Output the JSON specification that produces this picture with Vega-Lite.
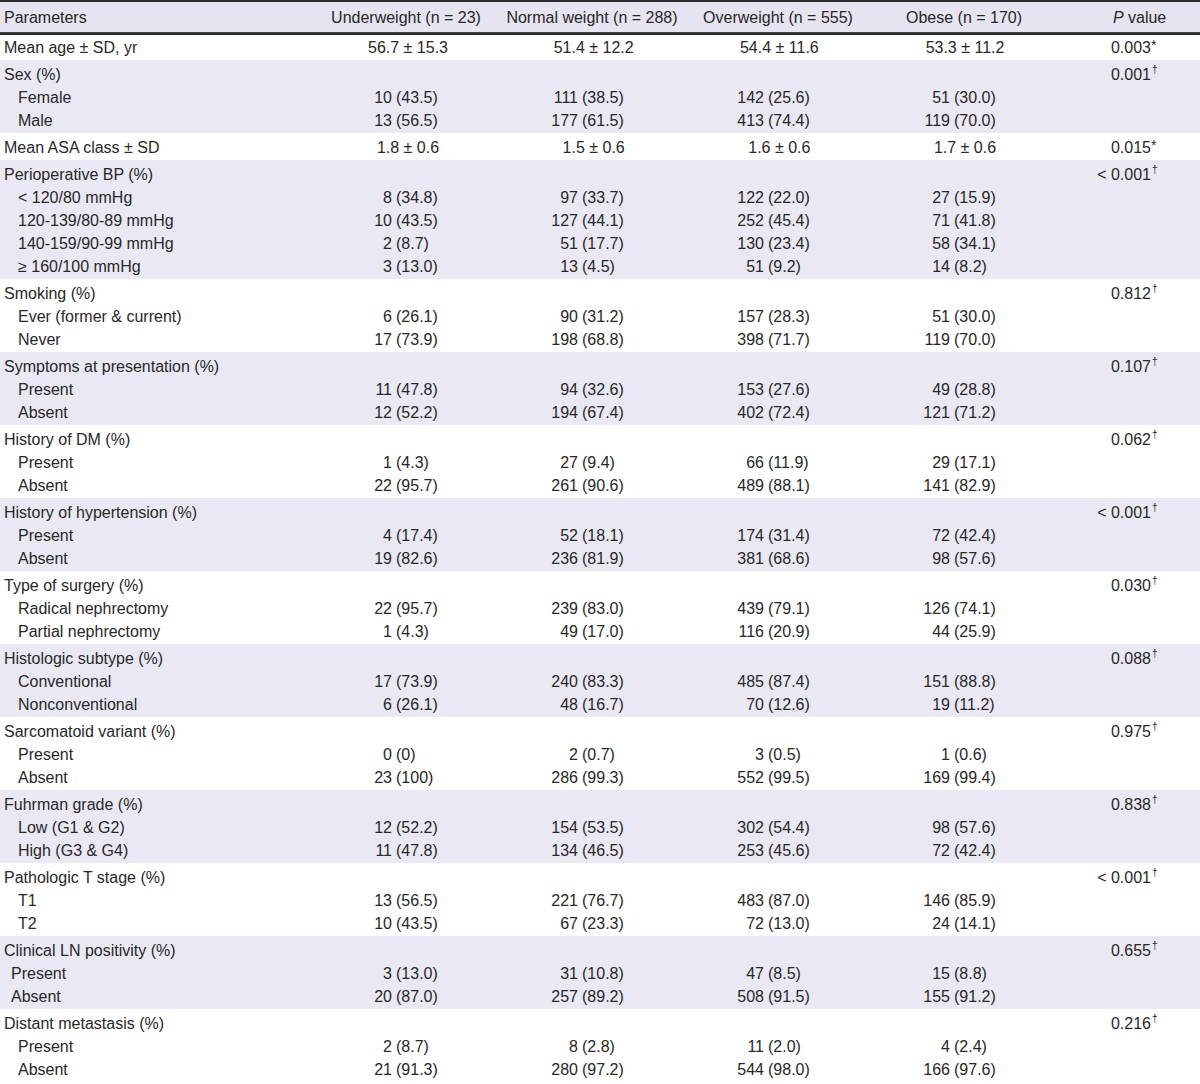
{
  "$schema": "https://vega.github.io/schema/vega-lite/v6.json",
  "padding": 0,
  "spacing": 0,
  "bounds": "flush",
  "config": {
    "view": {"stroke": null},
    "concat": {"spacing": 0},
    "facet": {"spacing": 0},
    "text": {"font": "Liberation Sans", "fontSize": 16, "color": "#282828", "baseline": "middle"}
  },
  "vconcat": [
    {
      "width": 1200,
      "height": 2,
      "data": {"values": [{"z": 1}]},
      "mark": {"type": "rect", "color": "#2b2b2b"},
      "encoding": {}
    },
    {
      "width": 1200,
      "height": 30,
      "data": {"values": [
        {"c": "L", "t": "Parameters"},
        {"c": "U", "t": "Underweight (n = 23)"},
        {"c": "N", "t": "Normal weight (n = 288)"},
        {"c": "O", "t": "Overweight (n = 555)"},
        {"c": "B", "t": "Obese (n = 170)"},
        {"c": "P1", "t": "P"},
        {"c": "P2", "t": "value"}
      ]},
      "resolve": {"scale": {"x": "independent"}},
      "layer": [
        {"mark": {"type": "rect", "color": "#e5e4f0"}, "encoding": {}},
        {
          "transform": [{"filter": "datum.c == 'L'"}],
          "mark": {"type": "text", "align": "left", "dy": 0.5},
          "encoding": {
            "x": {"field": "c", "type": "nominal", "axis": null, "scale": {"domain": ["L"], "range": [4, 4]}},
            "text": {"field": "t"}
          }
        },
        {
          "transform": [{"filter": "indexof(['U','N','O','B'], datum.c) >= 0"}],
          "mark": {"type": "text", "align": "center", "dy": 0.5},
          "encoding": {
            "x": {"field": "c", "type": "nominal", "axis": null, "scale": {"domain": ["U", "N", "O", "B"], "range": [406, 964], "padding": 0}},
            "text": {"field": "t"}
          }
        },
        {
          "transform": [{"filter": "datum.c == 'P1'"}],
          "mark": {"type": "text", "align": "left", "fontStyle": "italic", "dy": 0.5},
          "encoding": {
            "x": {"field": "c", "type": "nominal", "axis": null, "scale": {"domain": ["P1"], "range": [1113, 1113]}},
            "text": {"field": "t"}
          }
        },
        {
          "transform": [{"filter": "datum.c == 'P2'"}],
          "mark": {"type": "text", "align": "left", "dy": 0.5},
          "encoding": {
            "x": {"field": "c", "type": "nominal", "axis": null, "scale": {"domain": ["P2"], "range": [1128, 1128]}},
            "text": {"field": "t"}
          }
        }
      ]
    },
    {
      "width": 1200,
      "height": 1,
      "data": {"values": [{"z": 1}]},
      "mark": {"type": "rect", "color": "#444444"},
      "encoding": {}
    },
    {
      "data": {"values": [
        {"g": 1, "i": 1, "k": "m", "l": 0, "t": "Mean age ± SD, yr", "U": "56.7 ± 15.3", "N": "51.4 ± 12.2", "O": "54.4 ± 11.6", "B": "53.3 ± 11.2", "p": "0.003", "s": "*"},
        {"g": 2, "i": 2, "k": "h", "l": 0, "t": "Sex (%)", "p": "0.001", "s": "†"},
        {"g": 2, "i": 3, "k": "c", "l": 1, "t": "Female", "U": "10", "Uq": "(43.5)", "N": "111", "Nq": "(38.5)", "O": "142", "Oq": "(25.6)", "B": "51", "Bq": "(30.0)"},
        {"g": 2, "i": 4, "k": "c", "l": 1, "t": "Male", "U": "13", "Uq": "(56.5)", "N": "177", "Nq": "(61.5)", "O": "413", "Oq": "(74.4)", "B": "119", "Bq": "(70.0)"},
        {"g": 3, "i": 5, "k": "m", "l": 0, "t": "Mean ASA class ± SD", "U": "1.8 ± 0.6", "N": "1.5 ± 0.6", "O": "1.6 ± 0.6", "B": "1.7 ± 0.6", "p": "0.015", "s": "*"},
        {"g": 4, "i": 6, "k": "h", "l": 0, "t": "Perioperative BP (%)", "p": "< 0.001", "s": "†"},
        {"g": 4, "i": 7, "k": "c", "l": 1, "t": "< 120/80 mmHg", "U": "8", "Uq": "(34.8)", "N": "97", "Nq": "(33.7)", "O": "122", "Oq": "(22.0)", "B": "27", "Bq": "(15.9)"},
        {"g": 4, "i": 8, "k": "c", "l": 1, "t": "120-139/80-89 mmHg", "U": "10", "Uq": "(43.5)", "N": "127", "Nq": "(44.1)", "O": "252", "Oq": "(45.4)", "B": "71", "Bq": "(41.8)"},
        {"g": 4, "i": 9, "k": "c", "l": 1, "t": "140-159/90-99 mmHg", "U": "2", "Uq": "(8.7)", "N": "51", "Nq": "(17.7)", "O": "130", "Oq": "(23.4)", "B": "58", "Bq": "(34.1)"},
        {"g": 4, "i": 10, "k": "c", "l": 1, "t": "≥ 160/100 mmHg", "U": "3", "Uq": "(13.0)", "N": "13", "Nq": "(4.5)", "O": "51", "Oq": "(9.2)", "B": "14", "Bq": "(8.2)"},
        {"g": 5, "i": 11, "k": "h", "l": 0, "t": "Smoking (%)", "p": "0.812", "s": "†"},
        {"g": 5, "i": 12, "k": "c", "l": 1, "t": "Ever (former & current)", "U": "6", "Uq": "(26.1)", "N": "90", "Nq": "(31.2)", "O": "157", "Oq": "(28.3)", "B": "51", "Bq": "(30.0)"},
        {"g": 5, "i": 13, "k": "c", "l": 1, "t": "Never", "U": "17", "Uq": "(73.9)", "N": "198", "Nq": "(68.8)", "O": "398", "Oq": "(71.7)", "B": "119", "Bq": "(70.0)"},
        {"g": 6, "i": 14, "k": "h", "l": 0, "t": "Symptoms at presentation (%)", "p": "0.107", "s": "†"},
        {"g": 6, "i": 15, "k": "c", "l": 1, "t": "Present", "U": "11", "Uq": "(47.8)", "N": "94", "Nq": "(32.6)", "O": "153", "Oq": "(27.6)", "B": "49", "Bq": "(28.8)"},
        {"g": 6, "i": 16, "k": "c", "l": 1, "t": "Absent", "U": "12", "Uq": "(52.2)", "N": "194", "Nq": "(67.4)", "O": "402", "Oq": "(72.4)", "B": "121", "Bq": "(71.2)"},
        {"g": 7, "i": 17, "k": "h", "l": 0, "t": "History of DM (%)", "p": "0.062", "s": "†"},
        {"g": 7, "i": 18, "k": "c", "l": 1, "t": "Present", "U": "1", "Uq": "(4.3)", "N": "27", "Nq": "(9.4)", "O": "66", "Oq": "(11.9)", "B": "29", "Bq": "(17.1)"},
        {"g": 7, "i": 19, "k": "c", "l": 1, "t": "Absent", "U": "22", "Uq": "(95.7)", "N": "261", "Nq": "(90.6)", "O": "489", "Oq": "(88.1)", "B": "141", "Bq": "(82.9)"},
        {"g": 8, "i": 20, "k": "h", "l": 0, "t": "History of hypertension (%)", "p": "< 0.001", "s": "†"},
        {"g": 8, "i": 21, "k": "c", "l": 1, "t": "Present", "U": "4", "Uq": "(17.4)", "N": "52", "Nq": "(18.1)", "O": "174", "Oq": "(31.4)", "B": "72", "Bq": "(42.4)"},
        {"g": 8, "i": 22, "k": "c", "l": 1, "t": "Absent", "U": "19", "Uq": "(82.6)", "N": "236", "Nq": "(81.9)", "O": "381", "Oq": "(68.6)", "B": "98", "Bq": "(57.6)"},
        {"g": 9, "i": 23, "k": "h", "l": 0, "t": "Type of surgery (%)", "p": "0.030", "s": "†"},
        {"g": 9, "i": 24, "k": "c", "l": 1, "t": "Radical nephrectomy", "U": "22", "Uq": "(95.7)", "N": "239", "Nq": "(83.0)", "O": "439", "Oq": "(79.1)", "B": "126", "Bq": "(74.1)"},
        {"g": 9, "i": 25, "k": "c", "l": 1, "t": "Partial nephrectomy", "U": "1", "Uq": "(4.3)", "N": "49", "Nq": "(17.0)", "O": "116", "Oq": "(20.9)", "B": "44", "Bq": "(25.9)"},
        {"g": 10, "i": 26, "k": "h", "l": 0, "t": "Histologic subtype (%)", "p": "0.088", "s": "†"},
        {"g": 10, "i": 27, "k": "c", "l": 1, "t": "Conventional", "U": "17", "Uq": "(73.9)", "N": "240", "Nq": "(83.3)", "O": "485", "Oq": "(87.4)", "B": "151", "Bq": "(88.8)"},
        {"g": 10, "i": 28, "k": "c", "l": 1, "t": "Nonconventional", "U": "6", "Uq": "(26.1)", "N": "48", "Nq": "(16.7)", "O": "70", "Oq": "(12.6)", "B": "19", "Bq": "(11.2)"},
        {"g": 11, "i": 29, "k": "h", "l": 0, "t": "Sarcomatoid variant (%)", "p": "0.975", "s": "†"},
        {"g": 11, "i": 30, "k": "c", "l": 1, "t": "Present", "U": "0", "Uq": "(0)", "N": "2", "Nq": "(0.7)", "O": "3", "Oq": "(0.5)", "B": "1", "Bq": "(0.6)"},
        {"g": 11, "i": 31, "k": "c", "l": 1, "t": "Absent", "U": "23", "Uq": "(100)", "N": "286", "Nq": "(99.3)", "O": "552", "Oq": "(99.5)", "B": "169", "Bq": "(99.4)"},
        {"g": 12, "i": 32, "k": "h", "l": 0, "t": "Fuhrman grade (%)", "p": "0.838", "s": "†"},
        {"g": 12, "i": 33, "k": "c", "l": 1, "t": "Low (G1 & G2)", "U": "12", "Uq": "(52.2)", "N": "154", "Nq": "(53.5)", "O": "302", "Oq": "(54.4)", "B": "98", "Bq": "(57.6)"},
        {"g": 12, "i": 34, "k": "c", "l": 1, "t": "High (G3 & G4)", "U": "11", "Uq": "(47.8)", "N": "134", "Nq": "(46.5)", "O": "253", "Oq": "(45.6)", "B": "72", "Bq": "(42.4)"},
        {"g": 13, "i": 35, "k": "h", "l": 0, "t": "Pathologic T stage (%)", "p": "< 0.001", "s": "†"},
        {"g": 13, "i": 36, "k": "c", "l": 1, "t": "T1", "U": "13", "Uq": "(56.5)", "N": "221", "Nq": "(76.7)", "O": "483", "Oq": "(87.0)", "B": "146", "Bq": "(85.9)"},
        {"g": 13, "i": 37, "k": "c", "l": 1, "t": "T2", "U": "10", "Uq": "(43.5)", "N": "67", "Nq": "(23.3)", "O": "72", "Oq": "(13.0)", "B": "24", "Bq": "(14.1)"},
        {"g": 14, "i": 38, "k": "h", "l": 0, "t": "Clinical LN positivity (%)", "p": "0.655", "s": "†"},
        {"g": 14, "i": 39, "k": "c", "l": 2, "t": "Present", "U": "3", "Uq": "(13.0)", "N": "31", "Nq": "(10.8)", "O": "47", "Oq": "(8.5)", "B": "15", "Bq": "(8.8)"},
        {"g": 14, "i": 40, "k": "c", "l": 2, "t": "Absent", "U": "20", "Uq": "(87.0)", "N": "257", "Nq": "(89.2)", "O": "508", "Oq": "(91.5)", "B": "155", "Bq": "(91.2)"},
        {"g": 15, "i": 41, "k": "h", "l": 0, "t": "Distant metastasis (%)", "p": "0.216", "s": "†"},
        {"g": 15, "i": 42, "k": "c", "l": 1, "t": "Present", "U": "2", "Uq": "(8.7)", "N": "8", "Nq": "(2.8)", "O": "11", "Oq": "(2.0)", "B": "4", "Bq": "(2.4)"},
        {"g": 15, "i": 43, "k": "c", "l": 1, "t": "Absent", "U": "21", "Uq": "(91.3)", "N": "280", "Nq": "(97.2)", "O": "544", "Oq": "(98.0)", "B": "166", "Bq": "(97.6)"}
      ]},
      "facet": {"row": {"field": "g", "type": "ordinal", "header": null}},
      "spacing": {"row": 0},
      "resolve": {"scale": {"x": "independent", "y": "independent"}},
      "spec": {
        "width": 1200,
        "height": {"step": 23},
        "resolve": {"scale": {"x": "independent"}},
        "layer": [
          {
            "mark": {"type": "rect"},
            "encoding": {
              "color": {"condition": {"test": "datum.g % 2 == 0", "value": "#e9e8f3"}, "value": "#ffffff"}
            }
          },
          {
            "mark": {"type": "text", "align": "left", "dy": 1.5},
            "encoding": {
              "y": {"field": "i", "type": "ordinal", "axis": null, "scale": {"type": "point", "padding": 0.585, "round": false}},
              "x": {"field": "l", "type": "ordinal", "axis": null, "scale": {"type": "point", "domain": [0, 2, 1], "range": [4, 18], "padding": 0}},
              "text": {"field": "t"}
            }
          },
          {
            "transform": [{"filter": "datum.k == 'm'"}, {"fold": ["U", "N", "O", "B"]}],
            "mark": {"type": "text", "align": "center", "dy": 1.5},
            "encoding": {
              "y": {"field": "i", "type": "ordinal", "axis": null, "scale": {"type": "point", "padding": 0.585, "round": false}},
              "x": {"field": "key", "type": "nominal", "axis": null, "scale": {"type": "point", "domain": ["U", "N", "O", "B"], "range": [408, 965], "padding": 0}},
              "text": {"field": "value"}
            }
          },
          {
            "transform": [{"filter": "datum.k == 'c'"}, {"fold": ["U", "N", "O", "B"]}],
            "mark": {"type": "text", "align": "right", "dx": -4, "dy": 1.5},
            "encoding": {
              "y": {"field": "i", "type": "ordinal", "axis": null, "scale": {"type": "point", "padding": 0.585, "round": false}},
              "x": {"field": "key", "type": "nominal", "axis": null, "scale": {"type": "point", "domain": ["U", "N", "O", "B"], "range": [396, 954], "padding": 0}},
              "text": {"field": "value"}
            }
          },
          {
            "transform": [{"filter": "datum.k == 'c'"}, {"fold": ["Uq", "Nq", "Oq", "Bq"]}],
            "mark": {"type": "text", "align": "left", "dy": 1.5},
            "encoding": {
              "y": {"field": "i", "type": "ordinal", "axis": null, "scale": {"type": "point", "padding": 0.585, "round": false}},
              "x": {"field": "key", "type": "nominal", "axis": null, "scale": {"type": "point", "domain": ["Uq", "Nq", "Oq", "Bq"], "range": [396, 954], "padding": 0}},
              "text": {"field": "value"}
            }
          },
          {
            "transform": [{"filter": "isValid(datum.p)"}],
            "mark": {"type": "text", "align": "right", "dy": 1.5},
            "encoding": {
              "y": {"field": "i", "type": "ordinal", "axis": null, "scale": {"type": "point", "padding": 0.585, "round": false}},
              "x": {"datum": "P", "type": "nominal", "axis": null, "scale": {"domain": ["P"], "range": [1151, 1151]}},
              "text": {"field": "p"}
            }
          },
          {
            "transform": [{"filter": "datum.s == '†'"}],
            "mark": {"type": "text", "align": "left", "fontSize": 10, "dy": -3.5},
            "encoding": {
              "y": {"field": "i", "type": "ordinal", "axis": null, "scale": {"type": "point", "padding": 0.585, "round": false}},
              "x": {"datum": "S", "type": "nominal", "axis": null, "scale": {"domain": ["S"], "range": [1152, 1152]}},
              "text": {"field": "s"}
            }
          },
          {
            "transform": [{"filter": "datum.s == '*'"}],
            "mark": {"type": "text", "align": "left", "fontSize": 14, "dy": -0.5},
            "encoding": {
              "y": {"field": "i", "type": "ordinal", "axis": null, "scale": {"type": "point", "padding": 0.585, "round": false}},
              "x": {"datum": "A", "type": "nominal", "axis": null, "scale": {"domain": ["A"], "range": [1151, 1151]}},
              "text": {"field": "s"}
            }
          }
        ]
      }
    },
    {
      "width": 1200,
      "height": 2,
      "data": {"values": [{"z": 1}]},
      "mark": {"type": "rect", "color": "#2b2b2b"},
      "encoding": {}
    }
  ]
}
